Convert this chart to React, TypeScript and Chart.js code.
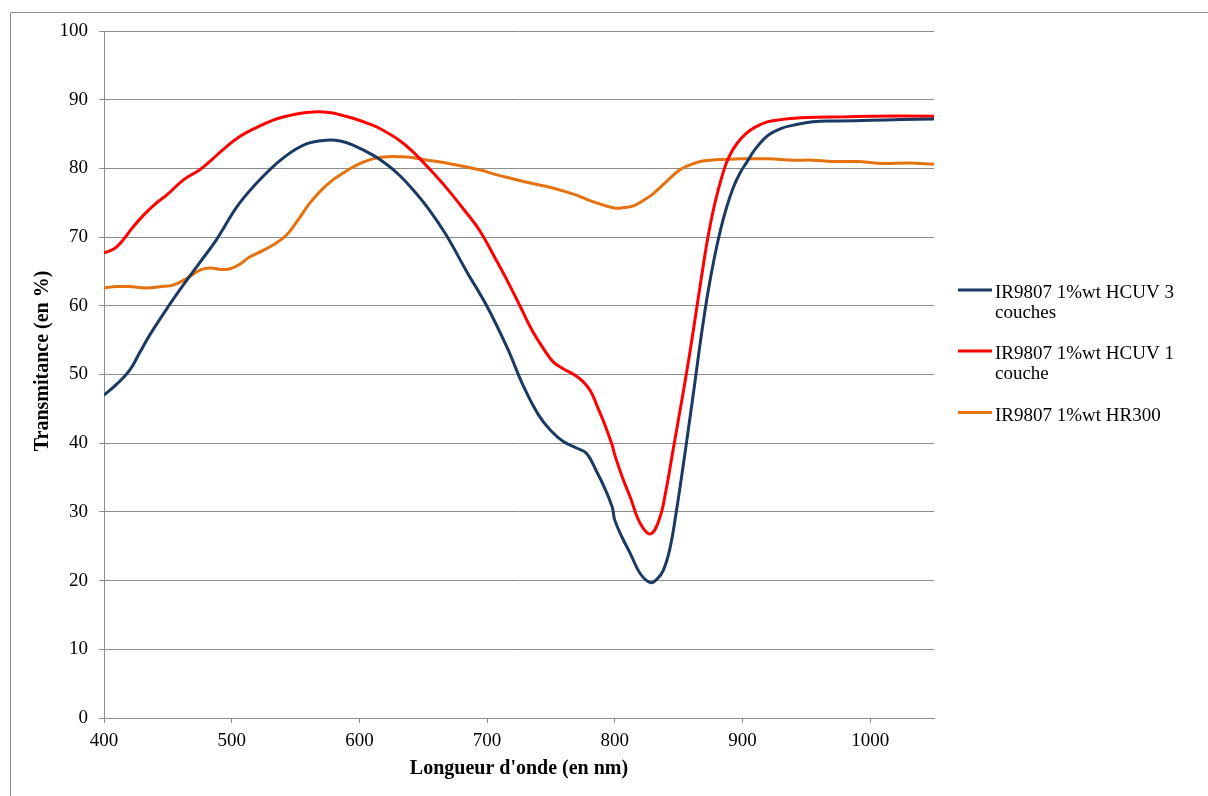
import React, { useEffect, useRef } from "react";
import { Chart, registerables } from "chart.js";

Chart.register(...registerables);

// Wavelengths (nm) and transmittance (%) for each series
const wlBlue = [400, 410, 420, 428, 436, 450, 462, 475, 488, 506, 527, 543, 559, 574, 585, 595, 611, 622, 632, 642, 655, 668, 684, 700, 716, 728, 740, 750, 760, 770, 778, 786, 792, 798, 800, 806, 812, 820, 828, 833, 838, 843, 848, 853, 858, 863, 868, 873, 878, 883, 888, 893, 898, 903, 910, 920, 930, 940, 955, 975, 1000, 1025, 1050];
const tBlue = [47.0, 48.6, 50.6, 53.2, 55.8, 59.8, 63.0, 66.3, 69.6, 74.9, 79.3, 81.9, 83.6, 84.1, 84.0, 83.4, 81.9, 80.5, 78.9, 76.9, 73.9, 70.3, 65.0, 59.9, 53.8, 48.5, 44.2, 41.8, 40.2, 39.3, 38.5, 35.8, 33.5, 30.7, 28.8, 26.2, 24.0, 21.0, 19.7, 20.2, 21.5, 24.5, 29.8, 36.0, 42.5, 49.2, 56.0, 62.0, 67.0, 71.2, 74.6, 77.3, 79.3, 80.8, 82.8, 84.8, 85.8, 86.3, 86.8, 86.9, 87.0, 87.1, 87.2];

const wlRed = [400, 408, 415, 422, 431, 440, 449, 462, 475, 484, 493, 506, 520, 532, 543, 553, 567, 578, 585, 595, 606, 616, 632, 642, 655, 668, 681, 694, 707, 716, 726, 735, 744, 752, 760, 768, 775, 781, 786, 792, 798, 800, 806, 812, 820, 828, 835, 840, 845, 850, 856, 862, 868, 873, 878, 885, 890, 896, 903, 910, 920, 930, 950, 980, 1000, 1050];
const tRed = [67.7, 68.3, 69.6, 71.3, 73.2, 74.8, 76.1, 78.3, 79.8, 81.2, 82.7, 84.6, 86.0, 87.0, 87.6, 88.0, 88.25, 88.1, 87.8, 87.3, 86.6, 85.8, 84.0, 82.4, 79.9, 77.2, 74.2, 71.0, 66.7, 63.6, 59.9, 56.5, 53.8, 51.8, 50.8, 50.0, 49.0, 47.6, 45.5, 42.8, 39.7, 38.3, 35.0, 32.2, 28.3, 26.8, 29.0, 33.0, 38.3, 43.6, 50.0, 57.0, 64.3, 70.0, 74.6, 79.5, 81.9, 83.7, 85.1, 86.0, 86.8, 87.1, 87.4, 87.5, 87.6, 87.6];

const wlOrange = [400, 410, 420, 433, 445, 454, 465, 475, 483, 492, 499, 506, 514, 524, 532, 543, 552, 561, 570, 579, 587, 595, 604, 613, 622, 632, 641, 650, 668, 681, 694, 707, 720, 733, 746, 760, 770, 778, 787, 794, 801, 807, 814, 822, 830, 840, 851, 860, 867, 875, 885, 900, 920, 940, 955, 970, 990, 1010, 1030, 1050];
const tOrange = [62.6, 62.8, 62.8, 62.6, 62.8, 63.0, 64.0, 65.2, 65.5, 65.3, 65.4, 66.0, 67.1, 68.0, 68.8, 70.3, 72.5, 74.9, 76.8, 78.3, 79.3, 80.2, 81.0, 81.5, 81.7, 81.7, 81.6, 81.3, 80.8, 80.3, 79.8, 79.1, 78.5, 77.9, 77.4, 76.7, 76.1, 75.5, 74.9, 74.5, 74.2, 74.3, 74.5, 75.3, 76.3, 78.0, 79.8, 80.6, 81.0, 81.2, 81.3, 81.4, 81.4, 81.2, 81.2, 81.0, 81.0, 80.7, 80.8, 80.6];

const seriesLabels = [
  ["IR9807 1%wt HCUV 3", "couches"],
  ["IR9807 1%wt HCUV 1", "couche"],
  ["IR9807 1%wt HR300"],
];
const seriesColors = ["#1B3A63", "#FF0000", "#E5720F"];

const xTitle = "Longueur d'onde (en nm)";
const yTitle = "Transmitance (en %)";

const FONT = '"Liberation Serif", "Times New Roman", serif';
const GRID = "#8C8C8C";

const toPoints = (xs: number[], ys: number[]) => xs.map((x, i) => ({ x, y: ys[i] }));

const framePlugin = {
  id: "frame",
  beforeDraw(chart: any) {
    const ctx = chart.ctx;
    ctx.save();
    ctx.strokeStyle = GRID;
    ctx.lineWidth = 1;
    ctx.beginPath();
    ctx.moveTo(10.5, 796);
    ctx.lineTo(10.5, 12.5);
    ctx.lineTo(1208, 12.5);
    ctx.stroke();
    ctx.restore();
  },
};

const yTitlePlugin = {
  id: "yTitle",
  afterDraw(chart: any) {
    const ctx = chart.ctx;
    ctx.save();
    ctx.translate(43, 361);
    ctx.rotate(-Math.PI / 2);
    ctx.fillStyle = "#000";
    ctx.font = `bold 20px ${FONT}`;
    ctx.textAlign = "center";
    ctx.textBaseline = "middle";
    ctx.fillText(yTitle, 0, 0);
    ctx.restore();
  },
};

const legendPlugin = {
  id: "customLegend",
  afterDraw(chart: any) {
    const ctx = chart.ctx;
    const ys = [290, 351, 412.5];
    ctx.save();
    chart.data.datasets.forEach((ds: any, i: number) => {
      const y = ys[i];
      ctx.strokeStyle = ds.borderColor;
      ctx.lineWidth = 3;
      ctx.beginPath();
      ctx.moveTo(958, y);
      ctx.lineTo(992, y);
      ctx.stroke();
      ctx.fillStyle = "#000";
      ctx.font = `19px ${FONT}`;
      ctx.textAlign = "left";
      ctx.textBaseline = "alphabetic";
      seriesLabels[i].forEach((line, j) => {
        ctx.fillText(line, 995, y + 8 + j * 19.5);
      });
    });
    ctx.restore();
  },
};

export default function App() {
  const ref = useRef<HTMLCanvasElement | null>(null);
  useEffect(() => {
    if (!ref.current) return;
    const datasets = [
      toPoints(wlBlue, tBlue),
      toPoints(wlRed, tRed),
      toPoints(wlOrange, tOrange),
    ].map((data, i) => ({
      label: seriesLabels[i].join(" "),
      data,
      borderColor: seriesColors[i],
      backgroundColor: seriesColors[i],
      borderWidth: 3,
      pointRadius: 0,
      tension: 0.4,
      fill: false,
    }));
    const chart = new Chart(ref.current, {
      type: "line",
      data: { datasets },
      options: {
        responsive: false,
        animation: false,
        devicePixelRatio: 1,
        layout: { padding: { left: 0, top: 31, right: 274, bottom: 0 } },
        plugins: { legend: { display: false }, tooltip: { enabled: false } },
        scales: {
          x: {
            type: "linear",
            min: 400,
            max: 1050,
            afterFit: (s: any) => { s.height = 78; },
            ticks: { stepSize: 100, includeBounds: false, color: "#000", font: { family: FONT, size: 19 }, padding: 7, maxRotation: 0, callback: (v: any) => String(v) },
            grid: { display: true, drawOnChartArea: false, drawTicks: true, tickLength: 5, color: GRID, tickColor: GRID },
            border: { display: true, color: GRID },
            title: { display: true, text: xTitle, color: "#000", font: { family: FONT, size: 20, weight: "bold" }, padding: { top: 0, bottom: 15 } },
          },
          y: {
            type: "linear",
            min: 0,
            max: 100,
            afterFit: (s: any) => { s.width = 104; },
            ticks: { stepSize: 10, color: "#000", font: { family: FONT, size: 19 }, padding: 11, callback: (v: any) => String(v) },
            grid: { display: true, drawTicks: true, tickLength: 5, color: GRID, tickColor: GRID },
            border: { display: true, color: GRID },
            title: { display: false },
          },
        },
      },
      plugins: [framePlugin, yTitlePlugin, legendPlugin],
    });
    return () => chart.destroy();
  }, []);
  return (
    <div style={{ position: "fixed", left: 0, top: 0, width: 1208, height: 796, background: "#fff" }}>
      <canvas ref={ref} width={1208} height={796} />
    </div>
  );
}
